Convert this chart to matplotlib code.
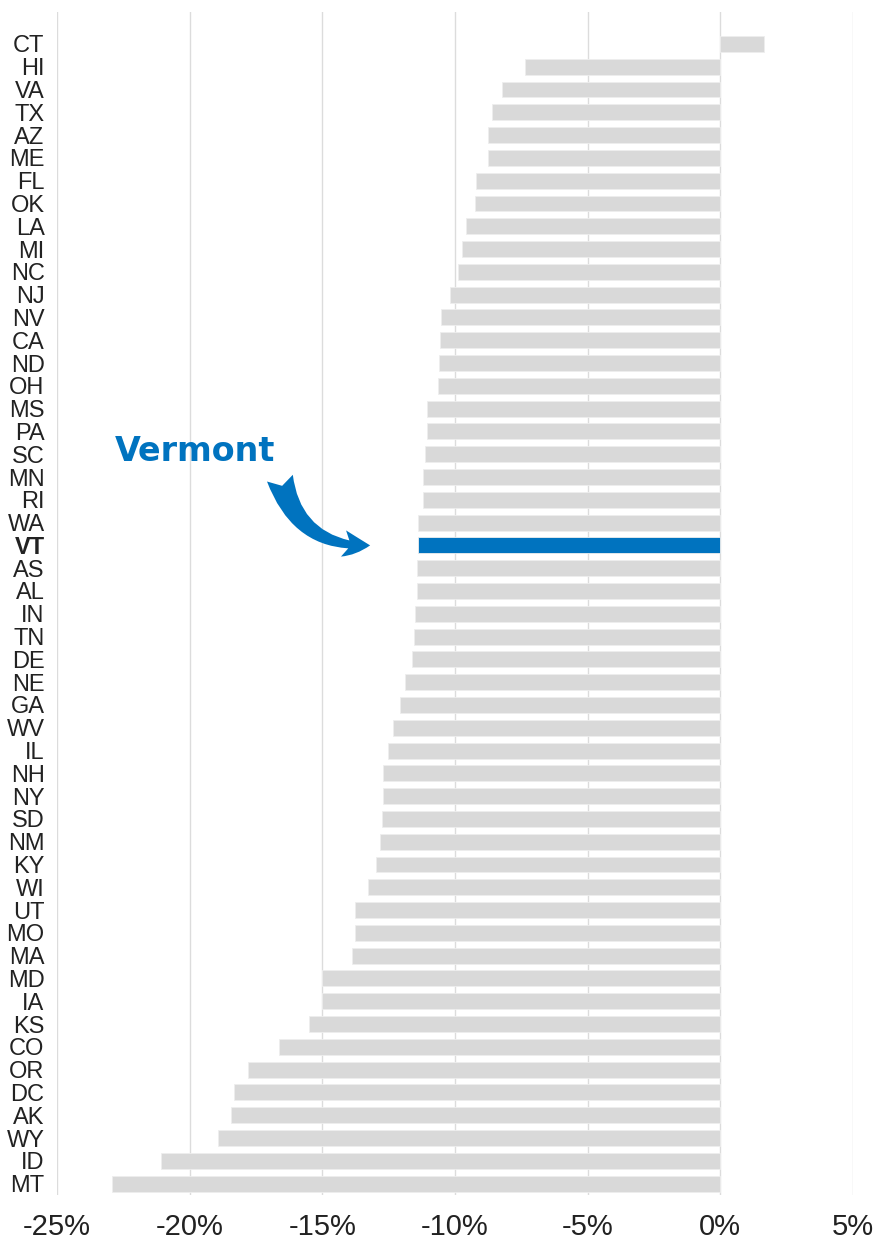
# Change by state, Vermont highlighted
import numpy as np
import matplotlib.pyplot as plt
from matplotlib.ticker import FuncFormatter

states = ['CT', 'HI', 'VA', 'TX', 'AZ', 'ME', 'FL', 'OK', 'LA', 'MI', 'NC', 'NJ', 'NV',
          'CA', 'ND', 'OH', 'MS', 'PA', 'SC', 'MN', 'RI', 'WA', 'VT', 'AS', 'AL', 'IN',
          'TN', 'DE', 'NE', 'GA', 'WV', 'IL', 'NH', 'NY', 'SD', 'NM', 'KY', 'WI', 'UT',
          'MO', 'MA', 'MD', 'IA', 'KS', 'CO', 'OR', 'DC', 'AK', 'WY', 'ID', 'MT']
change = [1.64, -7.38, -8.23, -8.6, -8.74, -8.74, -9.21, -9.23, -9.6, -9.72, -9.87,
          -10.19, -10.51, -10.55, -10.6, -10.64, -11.04, -11.04, -11.13, -11.19, -11.19,
          -11.4, -11.38, -11.45, -11.45, -11.51, -11.55, -11.62, -11.87, -12.09, -12.32,
          -12.53, -12.72, -12.72, -12.77, -12.81, -12.96, -13.28, -13.77, -13.77, -13.89,
          -15.02, -15.02, -15.49, -16.62, -17.81, -18.34, -18.45, -18.94, -21.1, -22.91]
xticks = [-25, -20, -15, -10, -5, 0, 5]
highlight = 'VT'

grey = '#d9d9d9'
blue = '#0073bf'
narrow = ['Liberation Sans Narrow', 'Liberation Sans', 'DejaVu Sans']

fig = plt.figure(figsize=(8.87, 12.39), dpi=100)
ax = fig.add_axes([0.0643, 0.0355, 0.8974, 0.9548])

y = np.arange(len(states))
colors = [blue if s == highlight else grey for s in states]
ax.barh(y, change, height=0.7, color=colors, edgecolor='#eeeeee', linewidth=0.6, zorder=2)

ax.set_xlim(-25, 5)
ax.set_ylim(len(states) - 0.5, -1.4)
ax.set_xticks(xticks)
ax.xaxis.set_major_formatter(FuncFormatter(lambda v, p: '%d%%' % v))
ax.set_yticks(y)
ax.set_yticklabels(states)
ax.grid(axis='x', color='#dcdcdc', linewidth=1, zorder=0)
for sp in ax.spines.values():
    sp.set_visible(False)
ax.tick_params(axis='y', length=0, pad=9, labelsize=17, labelcolor='#222222')
ax.tick_params(axis='x', length=0, pad=13, labelsize=21, labelcolor='#222222')
for lab in ax.get_yticklabels() + ax.get_xticklabels():
    lab.set_family(narrow)
for lab in ax.get_yticklabels():
    if lab.get_text() == highlight:
        lab.set_fontweight('bold')

# annotation
vi = states.index(highlight)
ax.text(-19.8, vi - 4.1, 'Vermont', color=blue, fontsize=24, fontweight='bold',
        family=['DejaVu Sans'], ha='center', va='center', clip_on=False)
ax.annotate('', xy=(-13.2, vi), xytext=(-16.6, vi - 2.95),
            arrowprops=dict(arrowstyle='fancy,head_length=1.2,head_width=1.2,tail_width=1.2',
                            connectionstyle='arc3,rad=0.4', color=blue, lw=0,
                            mutation_scale=16, shrinkA=0, shrinkB=0))

plt.savefig('out.png', dpi=100)
